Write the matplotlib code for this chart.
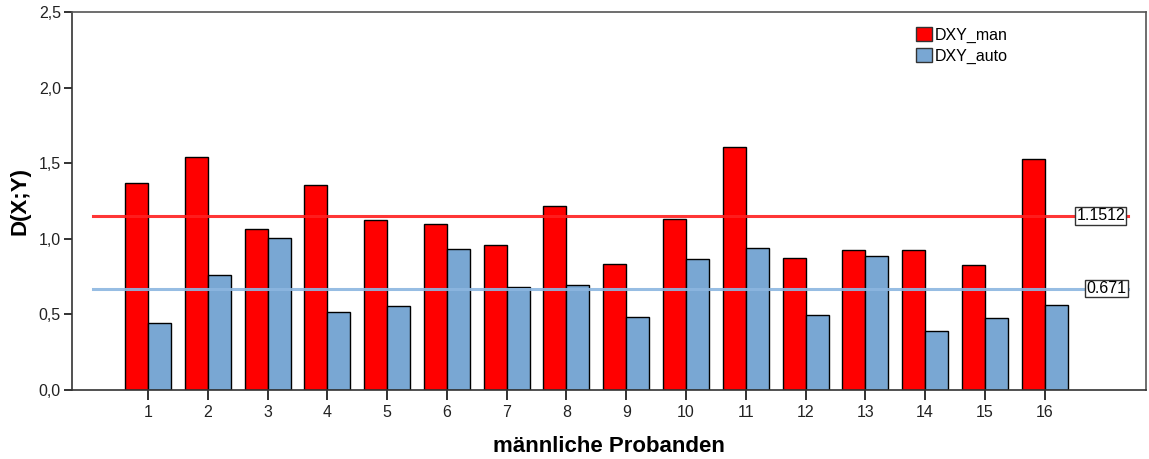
import numpy as np
import matplotlib
matplotlib.use("Agg")
import matplotlib.pyplot as plt
from matplotlib.patches import Patch
from matplotlib.ticker import FuncFormatter

plt.rcParams['font.family'] = ['Liberation Sans', 'DejaVu Sans']

probanden = [str(i) for i in range(1, 17)]
dxy_man = [1.371, 1.539, 1.067, 1.356, 1.127, 1.098, 0.957, 1.217,
           0.831, 1.129, 1.605, 0.875, 0.926, 0.924, 0.827, 1.528]
dxy_auto = [0.441, 0.758, 1.003, 0.518, 0.558, 0.930, 0.679, 0.692,
            0.483, 0.864, 0.939, 0.494, 0.888, 0.390, 0.478, 0.560]
mean_man = 1.1512
mean_auto = 0.671
yticks = [0.0, 0.5, 1.0, 1.5, 2.0, 2.5]

red = '#ff0000'
blue = '#79a7d3'

fig = plt.figure(figsize=(11.49, 4.59), dpi=100)
ax = fig.add_axes([0.0627, 0.1503, 0.9345, 0.8236])

x = np.arange(1, len(probanden) + 1)
w = 0.385
ax.bar(x - w / 2, dxy_man, w, color=red, edgecolor='black', linewidth=1.0, zorder=2)
ax.bar(x + w / 2, dxy_auto, w, color=blue, edgecolor='black', linewidth=1.0, zorder=2)

# reference lines for the means
ax.plot([0.08, 17.39], [mean_man, mean_man], color='#ff2020', lw=2.2, alpha=0.9, zorder=3)
ax.plot([0.08, 17.39], [mean_auto, mean_auto], color='#8cb6e0', lw=2.2, alpha=0.9, zorder=3)
ax.text(16.53, mean_man, '1.1512', fontsize=11.5, va='center', ha='left', zorder=5,
        bbox=dict(boxstyle='square,pad=0.08', fc='white', ec='#333333', lw=1))
ax.text(16.7, mean_auto, '0.671', fontsize=11.5, va='center', ha='left', zorder=5,
        bbox=dict(boxstyle='square,pad=0.08', fc='white', ec='#333333', lw=1))

ax.set_xlim(-0.27, 17.69)
ax.set_ylim(0, 2.5)
ax.set_xticks(x)
ax.set_xticklabels(probanden)
ax.set_yticks(yticks)
ax.yaxis.set_major_formatter(FuncFormatter(lambda v, p: f'{v:.1f}'.replace('.', ',')))
ax.tick_params(axis='both', labelsize=11.5, colors='#222222', width=1.3)
ax.tick_params(axis='x', length=7.5, pad=3)
ax.tick_params(axis='y', length=6, pad=2)

for s in ['top', 'right']:
    ax.spines[s].set_color('#555555')
    ax.spines[s].set_linewidth(1.2)
for s in ['left', 'bottom']:
    ax.spines[s].set_color('#333333')
    ax.spines[s].set_linewidth(1.2)

ax.set_ylabel('D(X;Y)', fontsize=16, fontweight='bold', labelpad=6)
ax.set_xlabel('männliche Probanden', fontsize=16, fontweight='bold', labelpad=12)

handles = [Patch(facecolor=red, edgecolor='#333333', label='DXY_man'),
           Patch(facecolor=blue, edgecolor='#333333', label='DXY_auto')]
ax.legend(handles=handles, loc='upper left', bbox_to_anchor=(0.78, 0.977),
          frameon=False, fontsize=11.5, handlelength=1.0, handleheight=1.0,
          handletextpad=0.2, labelspacing=0.32, borderaxespad=0)

fig.savefig('out.png', dpi=100, facecolor='white')
